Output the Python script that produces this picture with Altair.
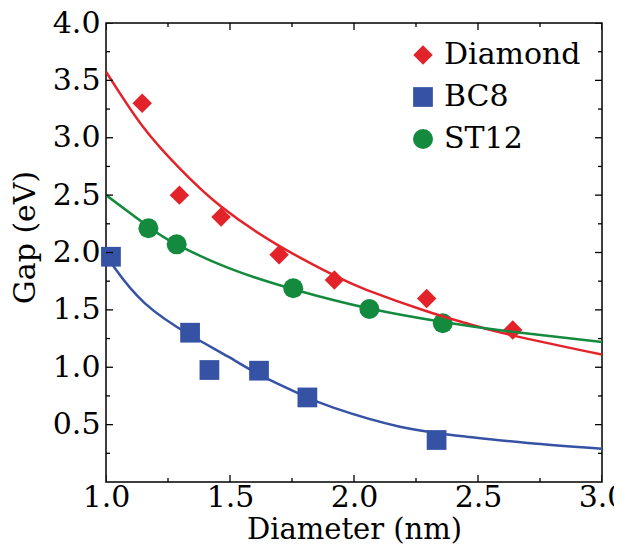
import altair as alt
import pandas as pd

# ---------------- data ----------------
series_names = ["Diamond", "BC8", "ST12"]
series_colors = ["#e3232a", "#3652a5", "#138a3e"]
series_shapes = ["diamond", "square", "circle"]
series_sizes = [380, 400, 361]

diamond_x = [1.146, 1.296, 1.464, 1.698, 1.921, 2.293, 2.640]
diamond_y = [3.30, 2.50, 2.31, 1.98, 1.76, 1.60, 1.325]

bc8_x = [1.020, 1.339, 1.417, 1.617, 1.812, 2.333]
bc8_y = [1.963, 1.301, 0.976, 0.970, 0.737, 0.366]

st12_x = [1.171, 1.285, 1.755, 2.062, 2.358]
st12_y = [2.211, 2.071, 1.688, 1.508, 1.383]

# fitted curves
diamond_fit_x = [1.0, 1.146, 1.296, 1.464, 1.698, 1.92, 2.05, 2.29, 2.45, 2.63, 3.0]
diamond_fit_y = [3.576, 3.105, 2.735, 2.40, 2.058, 1.80, 1.675, 1.49, 1.385, 1.282, 1.11]

bc8_fit_x = [1.0, 1.036, 1.157, 1.339, 1.493, 1.628, 1.789, 1.917, 2.185, 2.454, 2.70, 3.0]
bc8_fit_y = [1.98, 1.862, 1.557, 1.281, 1.092, 0.925, 0.76, 0.648, 0.482, 0.395, 0.34, 0.29]

st12_fit_x = [1.0, 1.171, 1.285, 1.493, 1.755, 2.062, 2.358, 2.629, 3.0]
st12_fit_y = [2.50, 2.225, 2.07, 1.866, 1.68, 1.512, 1.395, 1.312, 1.22]

x_major = [1.0, 1.5, 2.0, 2.5, 3.0]
x_minor = [1.25, 1.75, 2.25, 2.75]
y_major = [0.5, 1.0, 1.5, 2.0, 2.5, 3.0, 3.5, 4.0]
y_minor = [0.25, 0.75, 1.25, 1.75, 2.25, 2.75, 3.25, 3.75]

# ---------------- tables ----------------
pts = pd.concat([
    pd.DataFrame({"d": diamond_x, "gap": diamond_y, "series": "Diamond"}),
    pd.DataFrame({"d": bc8_x, "gap": bc8_y, "series": "BC8"}),
    pd.DataFrame({"d": st12_x, "gap": st12_y, "series": "ST12"}),
], ignore_index=True)

fits = pd.concat([
    pd.DataFrame({"d": diamond_fit_x, "gap": diamond_fit_y, "series": "Diamond"}),
    pd.DataFrame({"d": bc8_fit_x, "gap": bc8_fit_y, "series": "BC8"}),
    pd.DataFrame({"d": st12_fit_x, "gap": st12_fit_y, "series": "ST12"}),
], ignore_index=True)

W, H = 496, 459
FONT = "DejaVu Serif"
FS = 30

xscale = alt.Scale(domain=[1, 3], nice=False, zero=False)
yscale = alt.Scale(domain=[0, 4], nice=False, zero=False)

xaxis = alt.Axis(values=x_major, format=".1f", title="Diameter (nm)", domain=False,
                 ticks=False, grid=False, labelFlush=False, labelPadding=0,
                 labelFont=FONT, titleFont=FONT,
                 labelFontSize=FS, titleFontSize=29, titleFontWeight="normal",
                 titleY=47, titleBaseline="middle")
yaxis = alt.Axis(values=y_major, format=".1f", title="Gap (eV)", domain=False,
                 ticks=False, grid=False, labelPadding=6,
                 labelFont=FONT, titleFont=FONT,
                 labelFontSize=FS, titleFontSize=FS, titleFontWeight="normal",
                 titleX=-81, titleY=214, titleBaseline="middle")

X = alt.X("d:Q", scale=xscale, axis=xaxis)
Y = alt.Y("gap:Q", scale=yscale, axis=yaxis)

legend = alt.Legend(title=None, orient="none", legendX=302, legendY=17,
                    labelFont=FONT, labelFontSize=FS, labelColor="black",
                    symbolSize=441, rowPadding=12, labelOffset=6, padding=0,
                    symbolStrokeWidth=0)

points = alt.Chart(pts).mark_point(filled=True, opacity=1, strokeWidth=0).encode(
    x=X, y=Y,
    color=alt.Color("series:N", scale=alt.Scale(domain=series_names, range=series_colors),
                    legend=legend),
    shape=alt.Shape("series:N", scale=alt.Scale(domain=series_names, range=series_shapes),
                    legend=legend),
    size=alt.Size("series:N", scale=alt.Scale(domain=series_names, range=series_sizes),
                  legend=None),
)

lines = alt.Chart(fits).mark_line(strokeWidth=2.5, interpolate="natural", clip=True).encode(
    x=X, y=Y,
    stroke=alt.Stroke("series:N", scale=alt.Scale(domain=series_names, range=series_colors),
                      legend=None),
)

# inward ticks on all four sides (clipped at the frame)
xmaj = pd.DataFrame({"d": x_major})
xmin = pd.DataFrame({"d": x_minor})
ymaj = pd.DataFrame({"gap": y_major})
ymin = pd.DataFrame({"gap": y_minor})

tick_layers = []
for df, size in [(xmaj, 14), (xmin, 8)]:
    for yv in [0, H]:
        tick_layers.append(
            alt.Chart(df).mark_tick(orient="vertical", size=size, thickness=1.3,
                                    color="black", clip=True, opacity=1)
            .encode(x=X, y=alt.value(yv))
        )
for df, size in [(ymaj, 14), (ymin, 8)]:
    for xv in [0, W]:
        tick_layers.append(
            alt.Chart(df).mark_tick(orient="horizontal", size=size, thickness=1.3,
                                    color="black", clip=True, opacity=1)
            .encode(y=Y, x=alt.value(xv))
        )

chart = alt.layer(points, lines, *tick_layers).properties(
    width=W, height=H,
    autosize=alt.AutoSizeParams(type="none"),
    padding={"left": 98, "top": 15, "right": 12, "bottom": 62},
).configure(
    font=FONT,
).configure_axis(
    labelFont=FONT, titleFont=FONT, labelColor="black", titleColor="black",
).configure_view(
    stroke="black", strokeWidth=1.5,
).configure_legend(
    labelFont=FONT,
)

chart.save("out.html", embed_options={"renderer": "svg", "actions": False})
